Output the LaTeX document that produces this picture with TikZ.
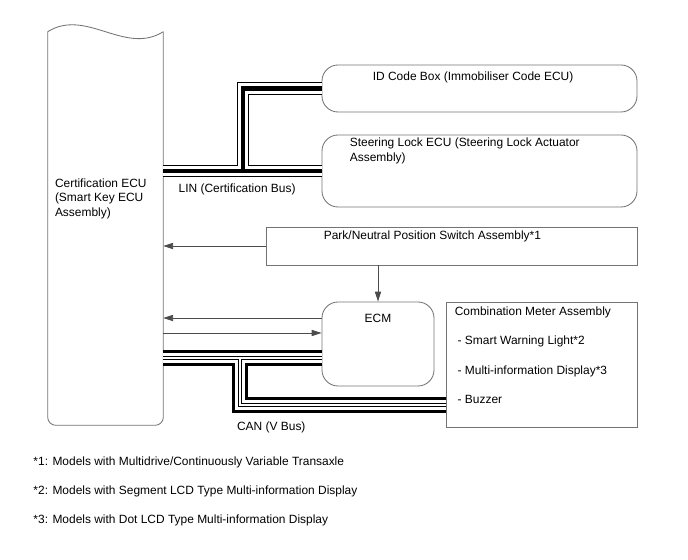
\documentclass[tikz,border=0pt]{standalone}
\usepackage{fontspec}
\setmainfont{Liberation Sans}
\usetikzlibrary{arrows.meta, positioning, calc}

\begin{document}
\begin{tikzpicture}[>={Triangle[length=7pt,width=4.4pt]},
    font=\fontsize{8.5}{10.2}\selectfont,
    outline/.style={draw=black!55, line width=0.6pt},
    ecu/.style={outline, rounded corners=0.4cm},
    txt/.style={inner sep=0pt, align=left},
    sig/.style={draw=black!70, line width=0.6pt, ->},
    linbus/.style={draw=black, line width=9.2pt, postaction={draw=white, line width=7.8pt}, postaction={draw=black, line width=3pt}},
    canbus/.style={draw=black, line width=12pt, postaction={draw=white, line width=7.6pt}, postaction={draw=black, line width=3.2pt}, postaction={draw=white, line width=1.5pt}}]
    \useasboundingbox (0,0) rectangle (17.2,14);

    % Certification ECU (wavy top)
    \node (cert) [minimum width=2.875cm, minimum height=9.825cm] at (2.6375, 8.2875) {};
    \draw[outline] (cert.north west) .. controls +(0.96,0.6) and +(-0.96,-0.6) .. (cert.north east);
    \draw[outline, rounded corners=0.2cm] (cert.north east) -- (cert.south east) -- (cert.south west) -- (cert.north west);
    \node (cert_txt) [txt, anchor=north west] at ([xshift=0.175cm, yshift=1.25cm]cert.west) {Certification ECU\\(Smart Key ECU\\Assembly)};

    % LIN side
    \node (id_box) [ecu, minimum width=7.875cm, minimum height=1.175cm] at (11.9875, 11.7875) {};
    \node (id_txt) [txt, anchor=base] at ([xshift=-0.16cm, yshift=-0.39cm]id_box.north) {ID Code Box (Immobiliser Code ECU)};
    \node (steer_box) [ecu, minimum width=7.875cm, minimum height=1.8cm] at (11.9875, 9.725) {};
    \node (steer_txt) [txt, anchor=north west] at ([xshift=0.7cm, yshift=-0.08cm]steer_box.north west) {Steering Lock ECU (Steering Lock Actuator\\Assembly)};

    % Switch, ECM and meter
    \node (park_box) [outline, minimum width=9.275cm, minimum height=0.95cm] at (11.2875, 7.85) {};
    \node (park_txt) [txt, anchor=base west] at ([xshift=1.45cm, yshift=-0.325cm]park_box.north west) {Park/Neutral Position Switch Assembly*1};
    \node (ecm) [ecu, minimum width=2.8cm, minimum height=2.1cm] at (9.45, 5.4) {};
    \node (ecm_txt) [txt, anchor=base] at ([yshift=-0.53cm]ecm.north) {ECM};
    \node (meter) [outline, minimum width=4.775cm, minimum height=3.125cm] at (13.5375, 4.8875) {};
    \node (meter_txt) [txt, anchor=north west, font=\fontsize{8.5}{20.8}\selectfont] at ([xshift=0.225cm, yshift=-0.13cm]meter.north west) {Combination Meter Assembly\\\hspace*{2pt}- Smart Warning Light*2\\\hspace*{2pt}- Multi-information Display*3\\\hspace*{2pt}- Buzzer};

    % LIN bus
    \coordinate (lin_j) at (6.075, 9.725);
    \draw[linbus] (steer_box.west -| cert.east) -- (steer_box.west) (lin_j) |- (id_box.west);
    \node (lin_txt) [txt, anchor=base west] at (4.46, 9.18) {LIN (Certification Bus)};

    % Signals
    \coordinate (ecm_out) at ([yshift=0.65cm]ecm.west);
    \coordinate (ecm_in) at ([yshift=0.275cm]ecm.west);
    \draw[sig] (park_box.west) -- (park_box.west -| cert.east);
    \draw[sig] (park_box.south -| ecm.north) -- (ecm.north);
    \draw[sig] (ecm_out) -- (ecm_out -| cert.east);
    \draw[sig] (ecm_in -| cert.east) -- (ecm_in);

    % CAN bus
    \coordinate (can_e) at ([yshift=-0.35cm]ecm.west);
    \coordinate (can_j) at (6.0, 5.05);
    \coordinate (can_m) at (6.0, 3.875);
    \draw[canbus] (can_e -| cert.east) -- (can_e) (can_j) -- (can_m) -- (can_m -| meter.west);
    \node (can_txt) [txt, anchor=base west] at (5.92, 3.225) {CAN (V Bus)};

    % Footnotes
    \node (note1) [txt, anchor=base west] at (0.83, 2.35) {*1: Models with Multidrive/Continuously Variable Transaxle};
    \node (note2) [txt, anchor=base west] at (0.83, 1.64) {*2: Models with Segment LCD Type Multi-information Display};
    \node (note3) [txt, anchor=base west] at (0.83, 0.92) {*3: Models with Dot LCD Type Multi-information Display};
\end{tikzpicture}
\end{document}
